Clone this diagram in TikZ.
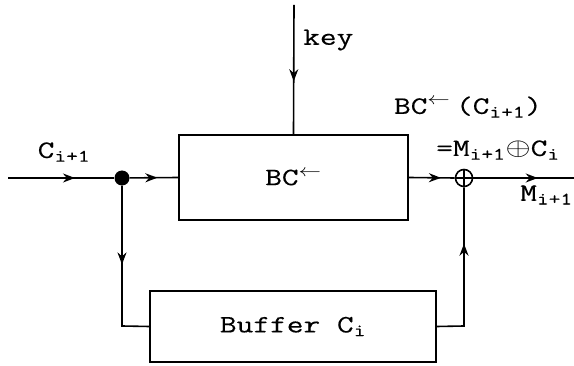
\documentclass[tikz,border=0pt]{standalone}
\usepackage{fontspec}
\setmonofont[FakeBold=0.3]{Latin Modern Mono}
\usetikzlibrary{arrows.meta,decorations.markings}
\newcommand\stx[1]{\scalebox{1.3}[1]{#1}}
\tikzset{
  box/.style={draw, line width=1.6pt, inner sep=0pt},
  lbl/.style={font=\ttfamily\fontsize{25}{27}\selectfont, inner sep=0pt},
  wire/.style={line width=1.6pt},
  marr/.style={wire, postaction={decorate}, decoration={markings, mark=at position #1 with {\arrow{Stealth[length=12pt,width=9pt]}}}}
}
\begin{document}
\begin{tikzpicture}[x=1pt,y=-1pt]
\useasboundingbox (0,0) rectangle (574,366);
\node[box, minimum width=229pt, minimum height=85pt, lbl] (bc) at (293.5,177.5) {\stx{BC\textsuperscript{$\leftarrow$}}};
\node[box, minimum width=286pt, minimum height=71pt, lbl] (buf) at (293,326.5) {\stx{Buffer C\textsubscript{i}}};
\node[circle, fill, inner sep=0pt, minimum size=15pt] (dot) at (122,178) {};
\node[circle, draw, line width=1.6pt, inner sep=0pt, minimum size=17pt,
  path picture={\draw[line width=1.6pt] (path picture bounding box.north)--(path picture bounding box.south) (path picture bounding box.west)--(path picture bounding box.east);}] (xor) at (464,178) {};
\coordinate (in) at (8,178);
\coordinate (out) at (574,178);
\coordinate (keytop) at (294,5);
\coordinate (bl) at (122,326);
\coordinate (br) at (464,326);
\draw[marr=0.63] (in) -- (dot);
\draw[marr=0.57] (dot) -- (bc.west);
\draw[marr=0.59] (keytop) -- (bc.north);
\draw[marr=0.70] (bc.east) -- (xor.west);
\draw[marr=0.64] (xor.east) -- (out);
\draw[marr=0.47] (dot.south) -- (bl) -- (buf.west);
\draw[marr=0.66] (buf.east) -- (br) -- (xor.south);
\node[lbl] (lc) at (64,152) {\stx{C\textsubscript{i+1}}};
\node[lbl, anchor=west] (lk) at (303,40) {\stx{key}};
\node[lbl] (l1) at (468,107) {\stx{BC\textsuperscript{$\leftarrow$}\,(C\textsubscript{i+1})}};
\node[lbl] (l2) at (498,150) {\stx{=M\textsubscript{i+1}$\oplus$C\textsubscript{i}}};
\node[lbl, anchor=east] (l3) at (573,195) {\stx{M\textsubscript{i+1}}};
\end{tikzpicture}
\end{document}
